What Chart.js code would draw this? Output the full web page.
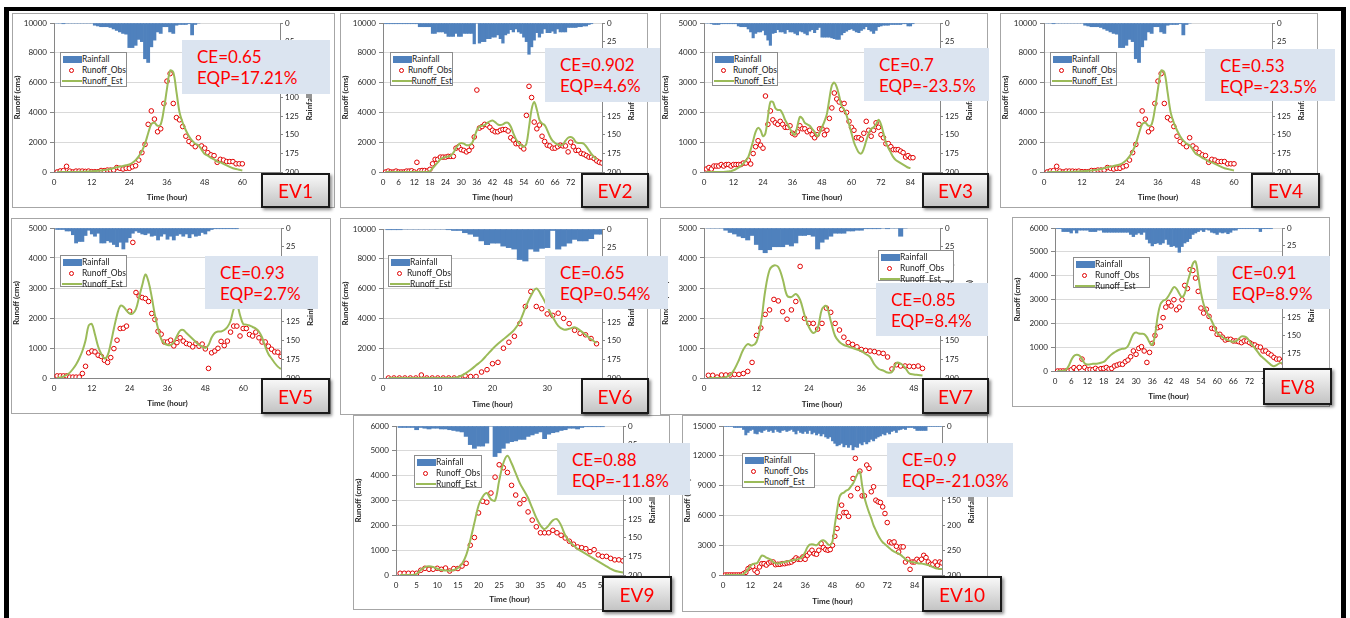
<!DOCTYPE html>
<html>
<head>
<meta charset="utf-8">
<script src="https://cdn.jsdelivr.net/npm/chart.js@4.4.1/dist/chart.umd.min.js"></script>
<style>
  body { margin: 0; width: 1350px; height: 618px; background: #fff; position: relative; overflow: hidden; font-family: Lato, "Liberation Sans", sans-serif; }
  .bar { position: absolute; background: #000; }
  .panel { position: absolute; box-sizing: border-box; border: 1px solid #a6a6a6; background: #fff; }
  .panel canvas { position: absolute; left: 0; top: 0; }
  .legend { position: absolute; box-sizing: border-box; background: #fff; border: 1px solid #8c8c8c; font-size: 8.5px; color: #222; padding-top: 1px; }
  .legend .row { height: 11px; line-height: 11px; display: flex; align-items: center; white-space: nowrap; }
  .legend .sw { width: 20px; height: 11px; position: relative; margin-left: 1px; }
  .ce { position: absolute; box-sizing: border-box; background: #dbe4f0; color: #ff0000; font-size: 17px; line-height: 21px; padding: 6px 0 0 15px; white-space: nowrap; }
  .ev { position: absolute; box-sizing: border-box; border: 2px solid #1a1a1a; background: linear-gradient(#f7f7f7, #c4c4c4); color: #ff0000; font-size: 19px; display: flex; align-items: center; justify-content: center; box-shadow: 2px 2px 3px rgba(0,0,0,0.45); }
</style>
</head>
<body>
<div class="bar" style="left:4px;top:7px;width:1342px;height:4px"></div>
<div class="bar" style="left:4px;top:7px;width:5px;height:611px"></div>
<div class="bar" style="left:1341px;top:7px;width:5px;height:611px"></div>
<script>
// labels
const evLabels = ['EV1', 'EV2', 'EV3', 'EV4', 'EV5', 'EV6', 'EV7', 'EV8', 'EV9', 'EV10'];
const ceLabels = ['CE=0.65', 'CE=0.902', 'CE=0.7', 'CE=0.53', 'CE=0.93', 'CE=0.65', 'CE=0.85', 'CE=0.91', 'CE=0.88', 'CE=0.9'];
const eqpLabels = ['EQP=17.21%', 'EQP=4.6%', 'EQP=-23.5%', 'EQP=-23.5%', 'EQP=2.7%', 'EQP=0.54%', 'EQP=8.4%', 'EQP=8.9%', 'EQP=-11.8%', 'EQP=-21.03%'];
const legendLabels = ['Rainfall', 'Runoff_Obs', 'Runoff_Est'];
const xTitle = 'Time (hour)';
const yTitle = 'Runoff (cms)';
const rainTitle = 'Rainfall (mm)';

// hourly series, first value = hour 1
const ev1Obs = [0,70,90,380,60,0,60,60,60,40, 60,20,20,20,100,90,130,130,130,300, 250,200,250,250,350,420,800,1300,1850,3200,
  4100,3550,2700,2900,4600,6100,6600,4600,3650,3500, 3050,2400,2050,1900,1700,2300,1750,1600,1300,1150, 1100,650,850,800,700,700,700,550,550,550];
const ev1Est = [0,0,0,0,0,0,0,10,20,30, 40,50,60,80,100,130,160,200,260,320, 360,400,450,500,620,800,1050,1400,1900,2600,
  3200,3300,3100,3200,4200,5600,6800,6700,5400,4000, 3300,2800,2400,2100,1900,1800,1500,1200,1100,950, 850,700,650,550,450,350,250,200,150,100];
const ev1Rain = [0,0,1,0,0,0,0,0,0,0, 0,0,3,4,5,5,5,6,8,10, 12,14,15,33,33,30,22,25,48,53, 32,23,12,14,5,5,12,14,3,2, 2,2,1,16,2,0];

const ev2Obs = [0,60,0,0,60,0,0,0,60,60, 80,0,650,80,100,100,60,180,550,850, 850,1000,1000,1000,1050,1050,1050,1600,1700,1500,
  1450,1350,1450,1700,2350,5500,2950,3050,3200,3150, 3000,2800,2700,2700,2800,2850,2850,2750,2300,2150,
  1900,1900,1700,1550,3800,5750,5000,3350,2900,3150, 2400,2050,1800,1750,1600,1600,1700,1800,1750,1750,
  1350,2000,1700,1450,1450,1250,1200,1100,1000,1000, 900,750,650,600];
const ev2Est = [0,0,0,0,0,0,0,0,0,0, 0,0,0,0,0,0,0,50,250,450, 650,850,950,1000,1050,1100,1300,1600,1850,1950,
  1900,1800,1800,1900,2300,2800,3050,3100,3150,3300, 3400,3450,3350,3200,3150,3200,3300,3300,3050,2600,
  2200,1950,1800,1700,1900,3000,4200,4700,4200,3500, 3250,3150,2800,2400,2100,1950,1850,1800,1850,2100,
  2300,2350,2250,2000,1950,1950,1900,1700,1450,1200, 1000,850];
const ev2Rain = [1,1,1,1,1,1,1,1,1,1, 1,1,1,5,5,5,5,5,14,14, 12,12,12,14,18,18,18,14,18,18, 14,14,14,14,28,0,27,25,25,21,
  21,19,19,16,21,27,16,14,9,12, 8,12,14,19,25,42,32,23,13,19, 14,8,13,13,11,14,8,12,12,12, 6,6,6,6,5,5,4,4,2,1];

const ev3Obs = [100,150,100,200,200,200,250,200,250,250, 200,250,250,250,250,300,300,400,270,620,
  850,1050,900,800,2550,1600,2050,1750,1650,1600, 1700,1600,1500,1500,1550,1300,1250,1350,1550,1450,
  1450,1350,1400,1250,1150,1250,1450,1450,1250,1400, 1800,2150,2650,2450,2350,2100,2300,2000,1700,1500,
  1400,1150,1150,1100,1300,1700,1400,1200,1400,1650, 1500,1250,1150,950,950,850,750,750,750,700, 650,500,550,480,480];
const ev3Est = [0,0,0,0,0,0,0,0,10,20, 30,60,100,150,200,280,380,500,750,1050, 1350,1480,1400,1200,1300,1850,2350,2350,2150,2080,
  2080,1950,1750,1600,1450,1300,1250,1550,1850,1800, 1650,1600,1550,1450,1350,1200,1300,1500,1700,1950,
  2450,2900,3000,2850,2550,2200,2100,1900,1600,1300, 1000,800,650,620,780,1050,1300,1450,1500,1600,
  1750,1600,1300,1000,800,650,500,400,350,300, 250,200,150,130];
const ev3Rain = [0,0,1,2,2,2,1,1,1,1, 1,1,1,4,5,5,5,8,12,20, 14,12,12,10,16,23,30,14,13,9, 12,12,14,9,12,12,14,16,11,12,
  14,16,11,9,13,9,6,19,19,19, 19,20,21,22,22,16,13,11,9,8, 10,12,13,10,8,5,9,11,14,10, 5,4,3,3,3,2,2,2,2,2, 1,1,4,4,1];

// EV4 repeats the EV1 hydrograph
const ev4Obs = ev1Obs.slice();
const ev4Est = ev1Est.slice();
const ev4Rain = ev1Rain.slice();

const ev5Obs = [70,70,70,70,30,30,30,30,150,390, 840,900,870,760,720,590,520,680,980,1260,
  1650,1660,1730,2230,4520,2850,2730,2680,2650,2550, 2150,1950,1560,1460,1200,1200,1260,1070,1180,1340,
  1230,1150,1120,1040,1150,1060,1130,970,320,840, 900,990,1220,1080,1230,1530,1730,1730,1400,1650,
  1650,1450,1400,1530,1340,1200,1200,1060,960,870, 860,720];
const ev5Est = [0,20,50,100,180,300,450,650,900,1250, 1750,1800,1450,1050,800,650,750,1150,1650,2100,
  2400,2380,2250,2150,2150,2300,2700,3100,3450,3200, 2700,2100,1650,1300,1150,1100,1100,1200,1400,1580,
  1600,1500,1400,1300,1200,1100,1050,1000,1100,1350, 1500,1550,1550,1600,1700,1900,2300,2450,2100,1800,
  1780,1750,1700,1650,1550,1350,1050,800,650,500, 380,300];
const ev5Rain = [2,2,2,4,4,9,20,18,18,10, 3,8,11,7,20,20,17,19,22,25, 19,28,19,13,7,4,6,8,9,7,
  11,10,16,11,8,15,11,16,10,8, 11,8,13,8,11,10,6,8,4,2, 1,1,1,1,1,1,1,1];

const ev6Obs = [0,0,0,0,0,0,200,0,0,0, 0,0,0,0,150,100,100,400,560,960,
  1050,2000,2400,2800,3650,4800,5800,4800,4650,4300, 4200,4350,4000,3650,3200,3000,2900,2650,2300];
const ev6Est = [0,0,0,0,0,0,0,0,0,0, 0,0,0,100,300,550,850,1150,1550,1950,
  2300,2600,2900,3250,3800,4700,5500,6000,5500,4800, 4100,3500,3250,3300,3400,3200,2900,2600,2350];
const ev6Rain = [1,1,1,0,0,0,0,0,0,0, 0,1,2,2,5,7,10,16,21,19, 19,23,25,27,41,43,27,30,26,25, 2,27,23,19,14,16,16,13,7,7];

const ev7Obs = [90,90,30,100,100,100,120,120,150,220, 520,1420,1670,2120,2270,2620,2570,2210,1960,2270,
  2550,3720,1990,1820,1820,1630,1820,2330,2190,1820, 1600,1360,1180,1120,1040,950,920,900,880,840,
  820,700,300,440,400,400,390,380,400,320];
const ev7Est = [0,0,0,0,30,100,300,600,950,1130, 1080,1200,1800,2900,3600,3750,3700,3300,2750,2700,
  2800,2600,2100,1700,1500,1650,2300,2400,1900,1400, 1200,1100,1050,1000,950,900,800,700,450,300,
  250,180,200,500,480,350,150,120,100,80];
const ev7Rain = [0,0,0,0,3,6,8,11,13,16, 10,22,29,33,29,25,25,25,22,24, 20,10,10,9,11,28,19,15,11,7,
  7,7,4,4,3,3,1,1,1,1, 0,1,0,0,11,0];

const ev8Obs = [0,0,0,0,0,50,140,50,150,500, 150,50,70,50,110,50,100,110,150,80,
  110,210,250,290,280,390,460,600,840,700, 950,1020,840,360,780,1160,1490,1820,1860,2240,
  2680,2870,2730,2990,2570,2680,2990,3590,3460,4250, 4220,3900,3340,2640,2430,2590,2290,1790,1770,1540,
  1540,1420,1300,1330,1330,1260,1260,1230,1190,1260, 1260,1190,1120,1090,1020,1000,840,840,740,670, 570,500,500,390];
const ev8Est = [0,0,0,50,200,450,630,680,650,500, 320,270,280,300,300,320,350,380,480,600,
  700,780,850,900,930,950,1050,1300,1550,1620, 1570,1560,1550,1420,1200,1100,1500,2300,2800,2950,
  3000,3150,3350,3520,3450,3250,3100,3250,3700,4100, 4500,4600,4000,3300,2800,2500,2300,2100,1850,1600,
  1500,1420,1350,1300,1250,1230,1250,1350,1450,1450, 1400,1250,1100,950,800,650,550,450,350,250, 200,250,320,350];
const ev8Rain = [1,1,5,5,5,7,3,7,3,3, 3,3,5,5,5,3,3,6,6,6, 6,6,6,6,6,6,6,9,12,9, 7,9,6,16,21,25,22,21,23,21,
  16,23,26,25,27,34,26,21,19,15, 9,7,5,3,5,2,3,6,7,9, 6,7,6,8,6,3,3,1,1,1, 1,1,1,1,1,5,1,1,1,1];

const ev9Obs = [70,70,70,70,70,190,270,230,230,270, 230,280,160,260,260,360,470,1200,1510,2500,
  2970,2930,3300,3940,4440,4320,4130,3610,3220,2870, 3040,2540,2210,1940,1700,1700,1700,1800,1700,1600,
  1490,1360,1240,1130,1100,1060,940,1020,810,750, 750,670,610,610,570];
const ev9Est = [0,0,0,0,50,200,320,350,320,250, 200,180,170,200,280,450,800,1400,2100,2800,
  3150,3300,3050,3000,3800,4500,4800,4500,4100,3700, 3400,3100,2700,2300,2000,1850,2000,2200,2250,2000,
  1600,1350,1200,1050,950,850,750,650,550,450, 350,250,170,130,100];
const ev9Rain = [2,2,2,2,5,2,3,4,3,3, 4,4,5,6,7,8,14,25,30,27, 27,23,0,41,36,30,23,21,20,18,
  18,14,12,10,8,17,11,9,8,6, 5,3,3,4,2,1,1,1,1,1];

const ev10Obs = [0,0,0,0,0,0,0,0,130,270, 640,810,870,470,270,810,1140,1140,1000,1210,
  1310,1310,1040,1080,1080,1140,1140,1210,1240,1310, 1480,1720,1580,1580,1820,1580,1980,2220,2490,2150,
  2090,2490,3160,2760,2560,2490,2560,2990,3900,4680, 5850,7030,6290,6290,5910,7970,9720,11740,8700,10460,
  7970,7970,11070,10730,8380,8880,7530,7370,7300,6860, 6190,5280,3330,3230,3330,2890,2320,2830,2830,1310,
  1580,570,1310,1310,1580,1380,1580,1980,1750,1310, 1080,1080,1310,980,1310,1210];
const ev10Est = [0,0,0,0,0,0,0,0,100,300, 600,900,1100,1150,1200,1600,1950,1900,1750,1650,
  1550,1300,1200,1150,1200,1250,1300,1350,1400,1450, 1500,1550,1600,1700,1900,2300,2800,3050,3100,3050,
  3000,3200,3450,3500,3350,3100,3000,3400,5000,6500, 7800,8200,8300,8500,8600,8900,9200,9700,10200,10400,
  9000,7800,7000,6300,5700,5000,4500,4000,3600,3300, 3100,2900,2700,2500,2350,2250,2150,2000,1800,1600,
  1450,1350,1300,1250,1200,1150,1150,1100,1050,1000, 900,800,700,650,600,600];
const ev10Rain = [1,1,1,1,3,3,3,3,7,18, 13,9,7,15,16,11,13,9,7,11, 9,13,7,11,13,9,8,11,9,7, 11,16,9,13,15,11,15,9,16,13,
  18,15,20,16,22,25,22,30,35,40, 38,35,42,38,43,38,48,42,43,35, 38,32,36,32,27,30,25,22,20,16,
  18,13,16,11,9,13,8,7,5,7, 3,3,3,5,9,9,9,9,9,1, 1,1,1,1,1,1];

// axis ranges per event: [x max, x step, runoff max, runoff step, rain max, rain step]
const axisRanges = [
  [72, 12, 10000, 2000, 200, 25],
  [84, 6, 10000, 2000, 200, 25],
  [96, 12, 5000, 1000, 200, 25],
  [72, 12, 10000, 2000, 200, 25],
  [72, 12, 5000, 1000, 200, 25],
  [40, 10, 10000, 2000, 200, 25],
  [54, 12, 5000, 1000, 200, 25],
  [84, 6, 6000, 1000, 200, 25],
  [55, 5, 6000, 1000, 200, 25],
  [96, 12, 15000, 3000, 300, 50]
];
const obsSeries = [ev1Obs, ev2Obs, ev3Obs, ev4Obs, ev5Obs, ev6Obs, ev7Obs, ev8Obs, ev9Obs, ev10Obs];
const estSeries = [ev1Est, ev2Est, ev3Est, ev4Est, ev5Est, ev6Est, ev7Est, ev8Est, ev9Est, ev10Est];
const rainSeries = [ev1Rain, ev2Rain, ev3Rain, ev4Rain, ev5Rain, ev6Rain, ev7Rain, ev8Rain, ev9Rain, ev10Rain];

// page layout: panel box, plot area (l,t,r,b), legend box, CE box, EV tag box
const layout = [
  { box: [12, 13, 323, 195], plot: [54, 23, 280, 172], leg: [60, 52, 67, 35], ce: [182, 40, 148, 54], ev: [261, 173, 69, 35] },
  { box: [340, 13, 308, 195], plot: [383, 23, 602, 172], leg: [390, 52, 63, 34], ce: [545, 48, 115, 54], ev: [581, 173, 68, 35] },
  { box: [660, 13, 328, 195], plot: [704, 23, 940, 172], leg: [712, 52, 66, 34], ce: [864, 48, 125, 53], ev: [922, 173, 67, 35] },
  { box: [1000, 13, 318, 195], plot: [1044, 23, 1272, 172], leg: [1050, 52, 67, 34], ce: [1205, 49, 130, 52], ev: [1251, 173, 69, 35] },
  { box: [11, 218, 320, 196], plot: [54, 228, 281, 378], leg: [60, 255, 67, 32], ce: [205, 256, 113, 53], ev: [261, 378, 69, 36] },
  { box: [340, 218, 308, 197], plot: [383, 229, 602, 378], leg: [388, 255, 64, 32], ce: [545, 256, 123, 53], ev: [581, 378, 68, 36] },
  { box: [660, 218, 328, 197], plot: [704, 228, 940, 378], leg: [878, 250, 76, 31], ce: [876, 283, 112, 53], ev: [922, 378, 67, 36] },
  { box: [1012, 217, 318, 190], plot: [1055, 228, 1282, 371], leg: [1073, 257, 77, 31], ce: [1217, 256, 113, 53], ev: [1263, 368, 69, 37] },
  { box: [353, 415, 317, 195], plot: [396, 426, 623, 575], leg: [414, 455, 68, 33], ce: [557, 443, 133, 52], ev: [602, 576, 70, 36] },
  { box: [682, 415, 306, 197], plot: [723, 426, 942, 575], leg: [742, 453, 73, 35], ce: [887, 443, 126, 54], ev: [922, 576, 80, 36] }
];

Chart.defaults.font.family = 'Lato, "Liberation Sans", sans-serif';
Chart.defaults.font.size = 8;
Chart.defaults.color = '#262626';

function hourly(arr) {
  return arr.map((v, i) => ({ x: i + 1, y: v }));
}

function plain(v) {
  return String(v);
}

function place(el, r) {
  el.style.left = r[0] + 'px';
  el.style.top = r[1] + 'px';
  el.style.width = r[2] + 'px';
  el.style.height = r[3] + 'px';
}

// secondary axis title, read bottom to top like the original
const rainAxisTitle = {
  id: 'rainAxisTitle',
  afterDraw(chart) {
    const a = chart.chartArea;
    const ctx = chart.ctx;
    ctx.save();
    ctx.translate(a.right + 29, (a.top + a.bottom) / 2);
    ctx.rotate(-Math.PI / 2);
    ctx.font = 'bold 8px Lato';
    ctx.fillStyle = '#262626';
    ctx.textAlign = 'center';
    ctx.textBaseline = 'middle';
    ctx.fillText(rainTitle, 0, 0);
    ctx.restore();
  }
};

function makeLegend(r) {
  const d = document.createElement('div');
  d.className = 'legend';
  place(d, r);
  const swatches = [
    '<div style="position:absolute;left:1px;top:2px;width:19px;height:7px;background:#4f81bd"></div>',
    '<div style="position:absolute;left:7px;top:3px;width:3px;height:3px;border:1px solid #e00000;border-radius:50%;background:#fff"></div>',
    '<div style="position:absolute;left:0;top:4px;width:20px;height:2px;background:#9bbb59"></div>'
  ];
  legendLabels.forEach((t, i) => {
    d.innerHTML += '<div class="row"><div class="sw">' + swatches[i] + '</div><span>' + t + '</span></div>';
  });
  document.body.appendChild(d);
}

layout.forEach((p, k) => {
  const [bx, by, bw, bh] = p.box;
  const [pl, pt, pr, pb] = p.plot;
  const [xMax, xStep, yMax, yStep, rMax, rStep] = axisRanges[k];
  const wrap = document.createElement('div');
  wrap.className = 'panel';
  place(wrap, p.box);
  const cv = document.createElement('canvas');
  const cw = bw - 2, ch = bh - 2;
  cv.width = cw;
  cv.height = ch;
  wrap.appendChild(cv);
  document.body.appendChild(wrap);
  const ox = bx + 1, oy = by + 1;

  new Chart(cv, {
    type: 'scatter',
    data: {
      datasets: [
        { type: 'line', label: legendLabels[2], data: hourly(estSeries[k]), yAxisID: 'y',
          borderColor: '#9bbb59', borderWidth: 2, pointRadius: 0, tension: 0.35, fill: false },
        { type: 'scatter', label: legendLabels[1], data: hourly(obsSeries[k]), yAxisID: 'y',
          pointRadius: 2.3, borderWidth: 1, borderColor: '#e00000', backgroundColor: '#fff' },
        { type: 'bar', label: legendLabels[0], data: hourly(rainSeries[k]), yAxisID: 'y2',
          backgroundColor: '#4f81bd', barPercentage: 1, categoryPercentage: 1, borderWidth: 0 }
      ]
    },
    options: {
      responsive: false,
      animation: false,
      events: [],
      layout: { padding: { top: pt - oy, left: 0, right: 0, bottom: 0 } },
      plugins: { legend: { display: false }, tooltip: { enabled: false } },
      scales: {
        x: {
          type: 'linear', min: 0, max: xMax, offset: false,
          ticks: { stepSize: xStep, autoSkip: false, maxRotation: 0, includeBounds: false, padding: 6, callback: plain },
          grid: { display: false, drawTicks: false },
          border: { color: '#868686' },
          title: { display: true, text: xTitle, font: { weight: 'bold' }, padding: { top: 0, bottom: 5 } },
          afterFit(s) { s.height = oy + ch - pb; }
        },
        y: {
          position: 'left', min: 0, max: yMax,
          ticks: { stepSize: yStep, padding: 3, callback: plain },
          grid: { color: '#d9d9d9', tickColor: '#868686', tickLength: 4 },
          border: { color: '#868686' },
          title: { display: true, text: yTitle, font: { weight: 'bold' }, padding: { top: 0, bottom: 0 } },
          afterFit(s) { s.width = pl - ox; }
        },
        y2: {
          position: 'right', reverse: true, min: 0, max: rMax,
          ticks: { stepSize: rStep, padding: 2, callback: plain },
          grid: { drawOnChartArea: false, tickColor: '#868686', tickLength: 3 },
          border: { color: '#868686' },
          afterFit(s) { s.width = ox + cw - pr; }
        }
      }
    },
    plugins: [rainAxisTitle]
  });
});

// overlays drawn after every panel so they sit on top
layout.forEach((p, k) => {
  makeLegend(p.leg);
  const ce = document.createElement('div');
  ce.className = 'ce';
  place(ce, p.ce);
  ce.innerHTML = ceLabels[k] + '<br>' + eqpLabels[k];
  document.body.appendChild(ce);
  const ev = document.createElement('div');
  ev.className = 'ev';
  place(ev, p.ev);
  ev.textContent = evLabels[k];
  document.body.appendChild(ev);
});
</script>
</body>
</html>
